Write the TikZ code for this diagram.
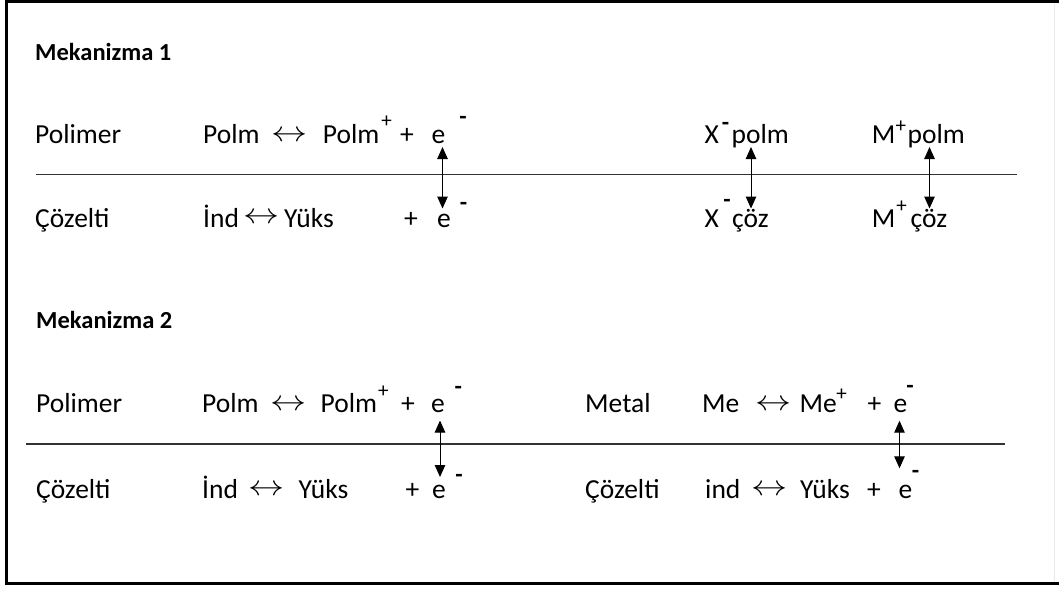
\documentclass[tikz,border=0pt]{standalone}
\usepackage{fontspec}
\setmainfont{Carlito}
\usetikzlibrary{arrows.meta}
\begin{document}
\begin{tikzpicture}[x=1pt,y=-1pt,
  txt/.style={anchor=base west,inner sep=0pt,font=\fontsize{27.5}{32}\selectfont},
  hdr/.style={anchor=base west,inner sep=0pt,font=\fontsize{24.5}{29}\selectfont\bfseries},
  supr/.style={anchor=center,inner sep=0pt,font=\fontsize{21}{24}\selectfont},
  supm/.style={anchor=center,inner sep=0pt,font=\fontsize{24}{28}\selectfont\bfseries},
  lrarr/.style={anchor=center,inner sep=0pt,font=\fontsize{24.88}{30}\selectfont},
  vlink/.style={{Triangle[length=12pt,width=10.5pt]}-{Triangle[length=12pt,width=10.5pt]},line width=1pt},
  sepline/.style={line width=1.3pt,black!80},
  frame/.style={line width=3pt,black}]
\useasboundingbox (0,0) rectangle (1059,590);
% frame
\draw[frame] (1059,1.5) -- (6.5,1.5) -- (6.5,583.5) -- (1059,583.5);
\draw[line width=1pt,black!8] (1054,3) -- (1054,582);
\newcommand{\LR}{\scalebox{1.45}[1.15]{$\leftrightarrow$}}
% ---------------- Mekanizma 1
\node[hdr] (h1) at (35,60) {Mekanizma 1};
\node[txt] (p1) at (35,143) {Polimer};
\node[txt] (pa1) at (203,143) {Polm};
\node[lrarr] (arr1) at (290,136.7) {\LR};
\node[txt] (pb1) at (322.7,143) {Polm};
\node[supr] (sp1) at (386.7,122) {+};
\node[txt] (pl1) at (400,143) {+};
\node[txt] (e1) at (431.5,143) {e};
\node[supm] (m1) at (463,120) {-};
\node[txt] (xa) at (704.3,143) {X};
\node[supm] (xs1) at (725.5,126) {-};
\node[txt] (xp) at (731.5,143) {polm};
\node[txt] (ma) at (871.7,143) {M};
\node[supr] (ms1) at (900.8,126.7) {+};
\node[txt] (mp) at (907.5,143) {polm};

\node[txt] (c1) at (35,227) {Çözelti};
\node[txt] (ind1) at (203,227) {İnd};
\node[lrarr] (arr2) at (262,218) {\LR};
\node[txt] (y1) at (284,227) {Yüks};
\node[txt] (pl2) at (404,227) {+};
\node[txt] (e2) at (437,227) {e};
\node[supm] (m2) at (463.5,206.7) {-};
\node[txt] (xb) at (704.3,227) {X};
\node[supm] (xs2) at (727,203.3) {-};
\node[txt] (xc) at (732,227) {çöz};
\node[txt] (mb) at (871.7,227) {M};
\node[supr] (ms2) at (901.7,206.7) {+};
\node[txt] (mc) at (910.5,227) {çöz};

\coordinate (l1a) at (36,174.5);
\coordinate (l1b) at (1017,174.5);
\draw[sepline] (l1a) -- (l1b);

\coordinate (t1) at (442.5,147);  \coordinate (b1) at (442.5,208.5);
\coordinate (t2) at (751,147);    \coordinate (b2) at (751,208.5);
\coordinate (t3) at (929.5,147);  \coordinate (b3) at (929.5,208.5);
\draw[vlink] (t1) -- (b1);
\draw[vlink] (t2) -- (b2);
\draw[vlink] (t3) -- (b3);

% ---------------- Mekanizma 2
\node[hdr] (h2) at (36,328.3) {Mekanizma 2};
\node[txt] (p2) at (36,412.7) {Polimer};
\node[txt] (pa2) at (202,412.7) {Polm};
\node[lrarr] (arr3) at (288.5,405.7) {\LR};
\node[txt] (pb2) at (320.5,412.7) {Polm};
\node[supr] (sp2) at (383.3,391.7) {+};
\node[txt] (pl3) at (401,412.7) {+};
\node[txt] (e3) at (431,412.7) {e};
\node[supm] (m3) at (458.3,390) {-};
\node[txt] (met) at (585,412.7) {Metal};
\node[txt] (me) at (702,412.7) {Me};
\node[lrarr] (arr5) at (774,405) {\LR};
\node[txt] (me2) at (799.5,412.7) {Me};
\node[supr] (sp3) at (841.7,395) {+};
\node[txt] (pl5) at (867.5,412.7) {+};
\node[txt] (e5) at (893.5,412.7) {e};
\node[supm] (m5) at (910,389.3) {-};

\node[txt] (c2) at (36,498.3) {Çözelti};
\node[txt] (ind2) at (202,498.3) {İnd};
\node[lrarr] (arr4) at (267,490.7) {\LR};
\node[txt] (y2) at (298.5,498.3) {Yüks};
\node[txt] (pl4) at (405.5,498.3) {+};
\node[txt] (e4) at (432,498.3) {e};
\node[supm] (m4) at (459,478.3) {-};
\node[txt] (c3) at (585,498.3) {Çözelti};
\node[txt] (ind3) at (705,498.3) {ind};
\node[lrarr] (arr6) at (770,490) {\LR};
\node[txt] (y3) at (800,498.3) {Yüks};
\node[txt] (pl6) at (867,498.3) {+};
\node[txt] (e6) at (898.5,498.3) {e};
\node[supm] (m6) at (915.5,474) {-};

\coordinate (l2a) at (26,444);
\coordinate (l2b) at (1005,444);
\draw[sepline] (l2a) -- (l2b);

\coordinate (t4) at (440,420.5); \coordinate (b4) at (440,477);
\coordinate (t5) at (899.5,420.7); \coordinate (b5) at (899.5,468.3);
\draw[vlink] (t4) -- (b4);
\draw[vlink] (t5) -- (b5);
\end{tikzpicture}
\end{document}
